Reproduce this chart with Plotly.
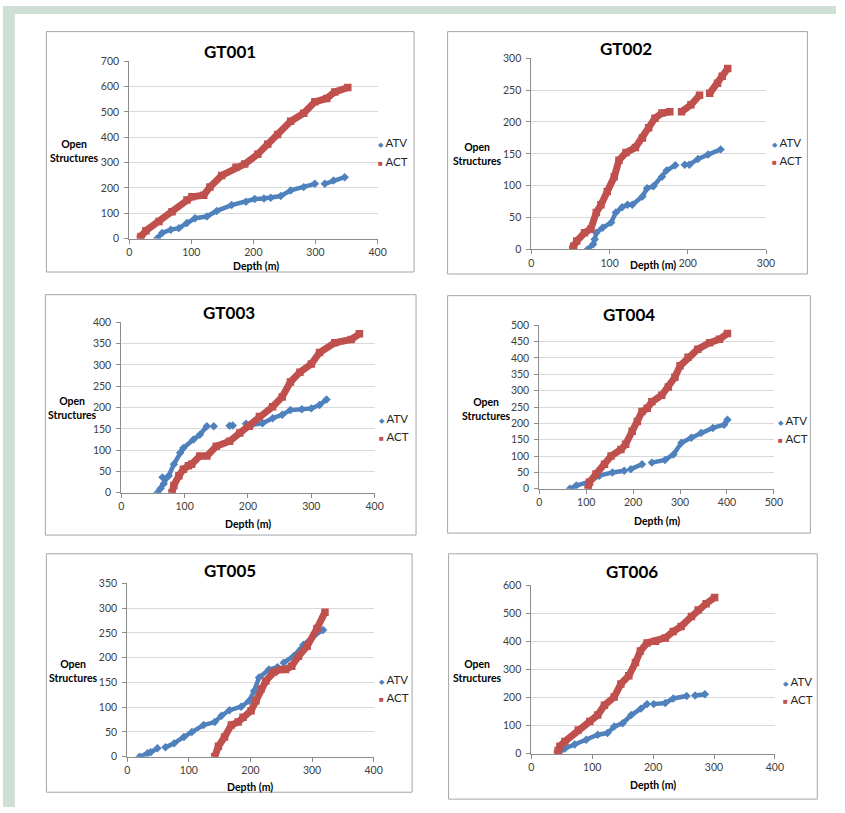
import plotly.graph_objects as go

W, H = 845, 813

# ---------------- data ----------------
chart_titles = ["GT001", "GT002", "GT003", "GT004", "GT005", "GT006"]
series_names = ["ATV", "ACT"]

gt001_atv_depth = [45, 53, 67, 80, 93, 106, 125, 141, 165, 188, 202, 217, 228, 244, 260, 281, 299, None, 315, 329, 347]
gt001_atv_open = [0, 22, 35, 41, 61, 80, 87, 109, 132, 145, 156, 158, 161, 168, 190, 203, 216, None, 216, 229, 242]
gt001_act_depth = [18, 19, 27, 48, 69, 93, 101, 120, 130, 149, 172, 186, 207, 223, 239, 260, 281, 299, 318, 331, 352]
gt001_act_open = [0, 8, 31, 67, 106, 152, 165, 171, 203, 249, 281, 294, 333, 372, 411, 463, 495, 540, 553, 579, 596]

gt002_atv_depth = [72, 79, 81, 83, 91, 102, 108, 116, 123, 129, 142, 148, 156, 167, 173, 184, None, 196, 202, 213, 226, 242]
gt002_atv_open = [0, 8, 16, 26, 34, 42, 58, 66, 70, 70, 83, 96, 99, 114, 124, 132, None, 133, 133, 142, 149, 157]
gt002_act_depth = [53, 54, 58, 68, 76, 83, 89, 97, 106, 112, 121, 133, 142, 150, 158, 167, 177, None, 192, 204, 215, None, 228, 238, 244, 251]
gt002_act_open = [0, 5, 13, 26, 32, 58, 70, 91, 114, 140, 152, 160, 175, 191, 206, 214, 216, None, 216, 227, 242, None, 245, 261, 272, 284]

gt003_atv_depth = [57, 62, 67, 75, 83, 93, 98, 114, 124, 135, None, 146, None, 171, 176, None, 197, 207, 223, 239, 254, 267, 285, 300, 313, 324, None, 65]
gt003_atv_open = [0, 10, 21, 40, 67, 94, 105, 125, 136, 156, None, 156, None, 157, 158, None, 162, 160, 163, 175, 183, 194, 196, 198, 206, 219, None, 36]
gt003_act_depth = [80, 83, 91, 98, 106, None, 111, 124, None, 135, 150, 171, 187, 202, 218, 239, 254, 267, 282, 300, 313, 337, 363, 376]
gt003_act_open = [0, 17, 40, 55, 63, None, 67, 86, None, 86, 109, 121, 140, 156, 179, 202, 225, 260, 283, 302, 329, 352, 360, 373]

gt004_atv_depth = [65, 79, 104, 128, 156, 181, None, 195, 219, None, 240, 268, 286, 303, 324, 345, 370, 394, 401]
gt004_atv_open = [0, 10, 20, 40, 50, 55, None, 60, 75, None, 80, 88, 105, 141, 156, 171, 186, 196, 211]
gt004_act_depth = [104, 107, 121, 139, 153, 174, 184, 198, 209, 219, 230, 240, 261, 275, 289, 300, 317, 338, 363, 384, 401]
gt004_act_open = [0, 20, 45, 75, 100, 120, 136, 176, 206, 236, 246, 266, 286, 311, 341, 376, 402, 427, 447, 457, 475]

gt005_atv_depth = [20, 33, None, 38, 49, None, 62, 76, 92, 105, 124, 142, 153, 166, 185, 198, 206, 214, 230, 244, None, 254, 270, 286, 302, 318]
gt005_atv_open = [0, 7, None, 9, 17, None, 19, 27, 40, 50, 64, 70, 83, 94, 101, 113, 133, 160, 176, 181, None, 190, 203, 226, 243, 256]
gt005_act_depth = [142, 148, 158, 169, 180, 188, 201, 209, 217, 225, 238, 249, None, 257, 267, 278, 292, 308, 321]
gt005_act_open = [0, 21, 40, 64, 70, 80, 93, 113, 137, 153, 171, 176, None, 176, 183, 203, 223, 259, 292]

gt006_atv_depth = [44, 55, 71, 90, 109, 125, 136, 150, 164, 180, 190, None, 201, 220, 233, 255, None, 269, 285]
gt006_atv_open = [0, 19, 33, 50, 68, 74, 97, 109, 138, 161, 177, None, 177, 181, 197, 206, None, 208, 212]
gt006_act_depth = [43, 44, 47, 55, 77, 96, 109, 120, 136, 147, 160, 171, 179, 190, 204, 220, 233, 246, 263, 274, 287, 301]
gt006_act_open = [0, 12, 27, 44, 85, 115, 138, 173, 202, 249, 278, 325, 366, 395, 401, 413, 436, 454, 489, 512, 535, 557]

x_max = [400, 300, 400, 500, 400, 400]
x_step = [100, 100, 100, 100, 100, 100]
y_max = [700, 300, 400, 500, 350, 600]
y_step = [100, 50, 50, 50, 50, 100]

atv_data = [
    (gt001_atv_depth, gt001_atv_open), (gt002_atv_depth, gt002_atv_open),
    (gt003_atv_depth, gt003_atv_open), (gt004_atv_depth, gt004_atv_open),
    (gt005_atv_depth, gt005_atv_open), (gt006_atv_depth, gt006_atv_open),
]
act_data = [
    (gt001_act_depth, gt001_act_open), (gt002_act_depth, gt002_act_open),
    (gt003_act_depth, gt003_act_open), (gt004_act_depth, gt004_act_open),
    (gt005_act_depth, gt005_act_open), (gt006_act_depth, gt006_act_open),
]

# ---------------- layout geometry (pixels) ----------------
plot_px = [  # x0, x1, ytop, ybottom
    (128, 380, 56, 236), (536, 774, 53, 247),
    (120, 377, 321, 494), (544, 782, 324, 490),
    (126, 376, 586, 762), (536, 783, 588, 759),
]
box_px = [  # x0, x1, y0, y1
    (44, 417, 26, 270), (451, 816, 26, 272),
    (43, 419, 293, 537), (451, 819, 294, 535),
    (44, 415, 556, 798), (452, 826, 556, 805),
]
title_px = [(230, 46), (632, 43), (229, 311), (635, 313), (230, 573), (638, 574)]
ytitle_px = [(73, 147), (481, 150), (70, 408), (490, 409), (72, 675), (481, 675)]
xtitle_px = [(257, 263.5), (659, 263), (249, 526), (663, 523), (251, 792.5), (659, 790.5)]
legend_px = [(382, 139, 158), (782, 139, 157), (383, 419, 437), (788, 421, 439), (383, 684, 702), (793, 686, 704)]

BLUE = "#4F81BD"
RED = "#C0504D"
FONT = "Lato"
AXC = "#8c8c8c"


def px(x):
    return x / W


def py(y):
    return 1 - y / H


fig = go.Figure()
shapes = []
annotations = []

# background bands
shapes.append(dict(type="rect", xref="paper", yref="paper", x0=0, x1=1, y0=py(8), y1=1,
                   fillcolor="#cfdfd3", line=dict(width=0), layer="below"))
shapes.append(dict(type="rect", xref="paper", yref="paper", x0=0, x1=px(12), y0=0, y1=1,
                   fillcolor="#cfdfd3", line=dict(width=0), layer="below"))

layout_axes = {}
for i in range(6):
    n = i + 1
    xa = "x" if n == 1 else f"x{n}"
    ya = "y" if n == 1 else f"y{n}"
    xk = "xaxis" if n == 1 else f"xaxis{n}"
    yk = "yaxis" if n == 1 else f"yaxis{n}"
    x0, x1, yt, yb = plot_px[i]

    fig.add_trace(go.Scatter(
        x=atv_data[i][0], y=atv_data[i][1], mode="lines+markers", name=series_names[0],
        xaxis=xa, yaxis=ya, showlegend=False, connectgaps=False,
        line=dict(color=BLUE, width=4.5),
        marker=dict(symbol="diamond", size=6.5, color=BLUE)))
    fig.add_trace(go.Scatter(
        x=act_data[i][0], y=act_data[i][1], mode="lines+markers", name=series_names[1],
        xaxis=xa, yaxis=ya, showlegend=False, connectgaps=False,
        line=dict(color=RED, width=7),
        marker=dict(symbol="square", size=7.5, color=RED)))

    layout_axes[xk] = dict(
        domain=[px(x0), px(x1)], anchor=ya, range=[0, x_max[i]], tick0=0, dtick=x_step[i],
        showgrid=False, zeroline=False, showline=True, linecolor=AXC, linewidth=1,
        ticks="outside", ticklen=4, tickcolor=AXC, tickwidth=1, ticklabelstandoff=0,
        tickfont=dict(family=FONT, size=10.5, color="#404040"), fixedrange=True)
    layout_axes[yk] = dict(
        domain=[py(yb), py(yt)], anchor=xa, range=[0, y_max[i] * 1.0005], tick0=0, dtick=y_step[i],
        showgrid=True, gridcolor="#d9d9d9", gridwidth=1, zeroline=False,
        showline=True, linecolor=AXC, linewidth=1,
        ticks="outside", ticklen=4, tickcolor=AXC, tickwidth=1, ticklabelstandoff=3,
        tickfont=dict(family=FONT, size=10.5, color="#404040"), fixedrange=True)

    bx0, bx1, by0, by1 = box_px[i]
    shapes.append(dict(type="rect", xref="paper", yref="paper",
                       x0=px(bx0), x1=px(bx1), y0=py(by1), y1=py(by0),
                       line=dict(color="#a6a6a6", width=1), fillcolor="rgba(0,0,0,0)"))

    tx, ty = title_px[i]
    annotations.append(dict(text=f"<b>{chart_titles[i]}</b>", x=px(tx), y=py(ty), xref="paper", yref="paper",
                            showarrow=False, xanchor="center", yanchor="middle",
                            font=dict(family=FONT, size=17, color="#000000")))
    yx, yy = ytitle_px[i]
    annotations.append(dict(text="<b>Open<br>Structures</b>", x=px(yx), y=py(yy), xref="paper", yref="paper",
                            showarrow=False, xanchor="center", yanchor="middle", align="center",
                            font=dict(family=FONT, size=10.5, color="#000000")))
    xx, xy = xtitle_px[i]
    annotations.append(dict(text="<b>Depth (m)</b>", x=px(xx), y=py(xy), xref="paper", yref="paper",
                            showarrow=False, xanchor="center", yanchor="middle",
                            font=dict(family=FONT, size=10.5, color="#000000")))
    lx, l1, l2 = legend_px[i]
    annotations.append(dict(text=f'<span style="color:{BLUE};font-size:7px">◆</span> {series_names[0]}',
                            x=px(lx - 4), y=py(l1), xref="paper", yref="paper",
                            showarrow=False, xanchor="left", yanchor="middle",
                            font=dict(family=FONT, size=11.5, color="#262626")))
    annotations.append(dict(text=f'<span style="color:{RED};font-size:8px">■</span> {series_names[1]}',
                            x=px(lx - 4), y=py(l2), xref="paper", yref="paper",
                            showarrow=False, xanchor="left", yanchor="middle",
                            font=dict(family=FONT, size=11.5, color="#262626")))

fig.update_layout(
    width=W, height=H, margin=dict(l=0, r=0, t=0, b=0),
    paper_bgcolor="white", plot_bgcolor="white",
    shapes=shapes, annotations=annotations, showlegend=False,
    **layout_axes)

fig.write_html("out.html")
